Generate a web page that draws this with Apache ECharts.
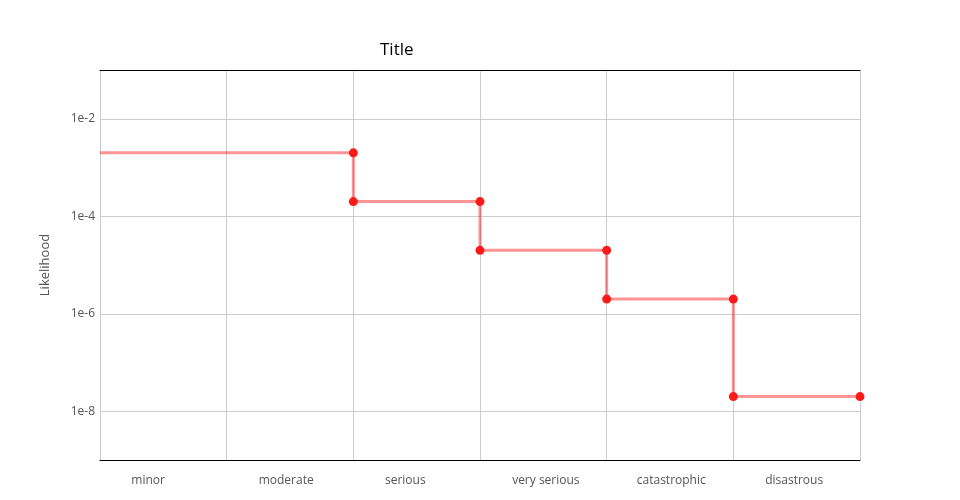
<!DOCTYPE html>
<html>
<head>
<meta charset="utf-8">
<script src="https://cdn.jsdelivr.net/npm/echarts@6/dist/echarts.min.js"></script>
<style>html,body{margin:0;padding:0;background:#fff;}#c{width:960px;height:500px;}</style>
</head>
<body>
<div id="c"></div>
<script>
var severities = ['minor', 'moderate', 'serious', 'very serious', 'catastrophic', 'disastrous'];
var stepX = [0, 2, 2, 3, 3, 4, 4, 5, 5, 6];
var likelihood = [2e-3, 2e-3, 2e-4, 2e-4, 2e-5, 2e-5, 2e-6, 2e-6, 2e-8, 2e-8];
var yTickLabels = ['1e-2', '1e-4', '1e-6', '1e-8'];

var font = '"Open Sans", sans-serif';
var labelPos = [0.38, 1.47, 2.41, 3.52, 4.51, 5.48];

var data = stepX.map(function (x, i) {
  var d = { value: [x, likelihood[i]] };
  if (i === 0) d.symbol = 'none';
  return d;
});

var chart = echarts.init(document.getElementById('c'), null, { renderer: 'canvas' });
chart.setOption({
  animation: false,
  backgroundColor: '#fff',
  title: {
    text: 'Title',
    left: 375,
    top: 37,
    textStyle: { fontFamily: font, fontSize: 17, fontWeight: 'normal', color: '#000' }
  },
  grid: { left: 100, right: 100, top: 70, bottom: 40, containLabel: false },
  xAxis: [{
    type: 'value',
    min: 0, max: 6, interval: 1,
    position: 'bottom',
    axisLine: { show: true, onZero: false, lineStyle: { color: '#000', width: 1 } },
    axisTick: { show: false },
    splitLine: { show: true, lineStyle: { color: '#cccccc', width: 1 } },
    axisLabel: {
      show: true,
      customValues: labelPos,
      margin: 15,
      fontFamily: font, fontSize: 12, color: '#555',
      formatter: function (v) { return severities[Math.floor(v)]; }
    }
  }, {
    type: 'value',
    min: 0, max: 6, interval: 1,
    position: 'top',
    axisLine: { show: true, onZero: false, lineStyle: { color: '#000', width: 1 } },
    axisTick: { show: false },
    splitLine: { show: false },
    axisLabel: { show: false }
  }],
  yAxis: {
    type: 'log',
    logBase: 100,
    min: 1e-9, max: 1e-1,
    name: 'Likelihood',
    nameLocation: 'middle',
    nameRotate: 90,
    nameGap: 48,
    nameTextStyle: { fontFamily: font, fontSize: 13, color: '#555' },
    axisLine: { show: false },
    axisTick: { show: false },
    splitLine: { show: true, lineStyle: { color: '#cccccc', width: 1 } },
    axisLabel: {
      showMinLabel: false, showMaxLabel: false,
      margin: 5,
      fontFamily: font, fontSize: 12, color: '#555',
      formatter: function (v) {
        var e = Math.round(Math.log10(v));
        var s = '1e' + e;
        return yTickLabels.indexOf(s) >= 0 ? s : '';
      }
    }
  },
  series: [{
    type: 'line',
    xAxisIndex: 0,
    data: data,
    symbol: 'circle',
    symbolSize: 9,
    lineStyle: { color: 'rgba(255,0,0,0.42)', width: 3 },
    itemStyle: { color: '#ff1a1a' },
    clip: false
  }]
});
</script>
</body>
</html>
